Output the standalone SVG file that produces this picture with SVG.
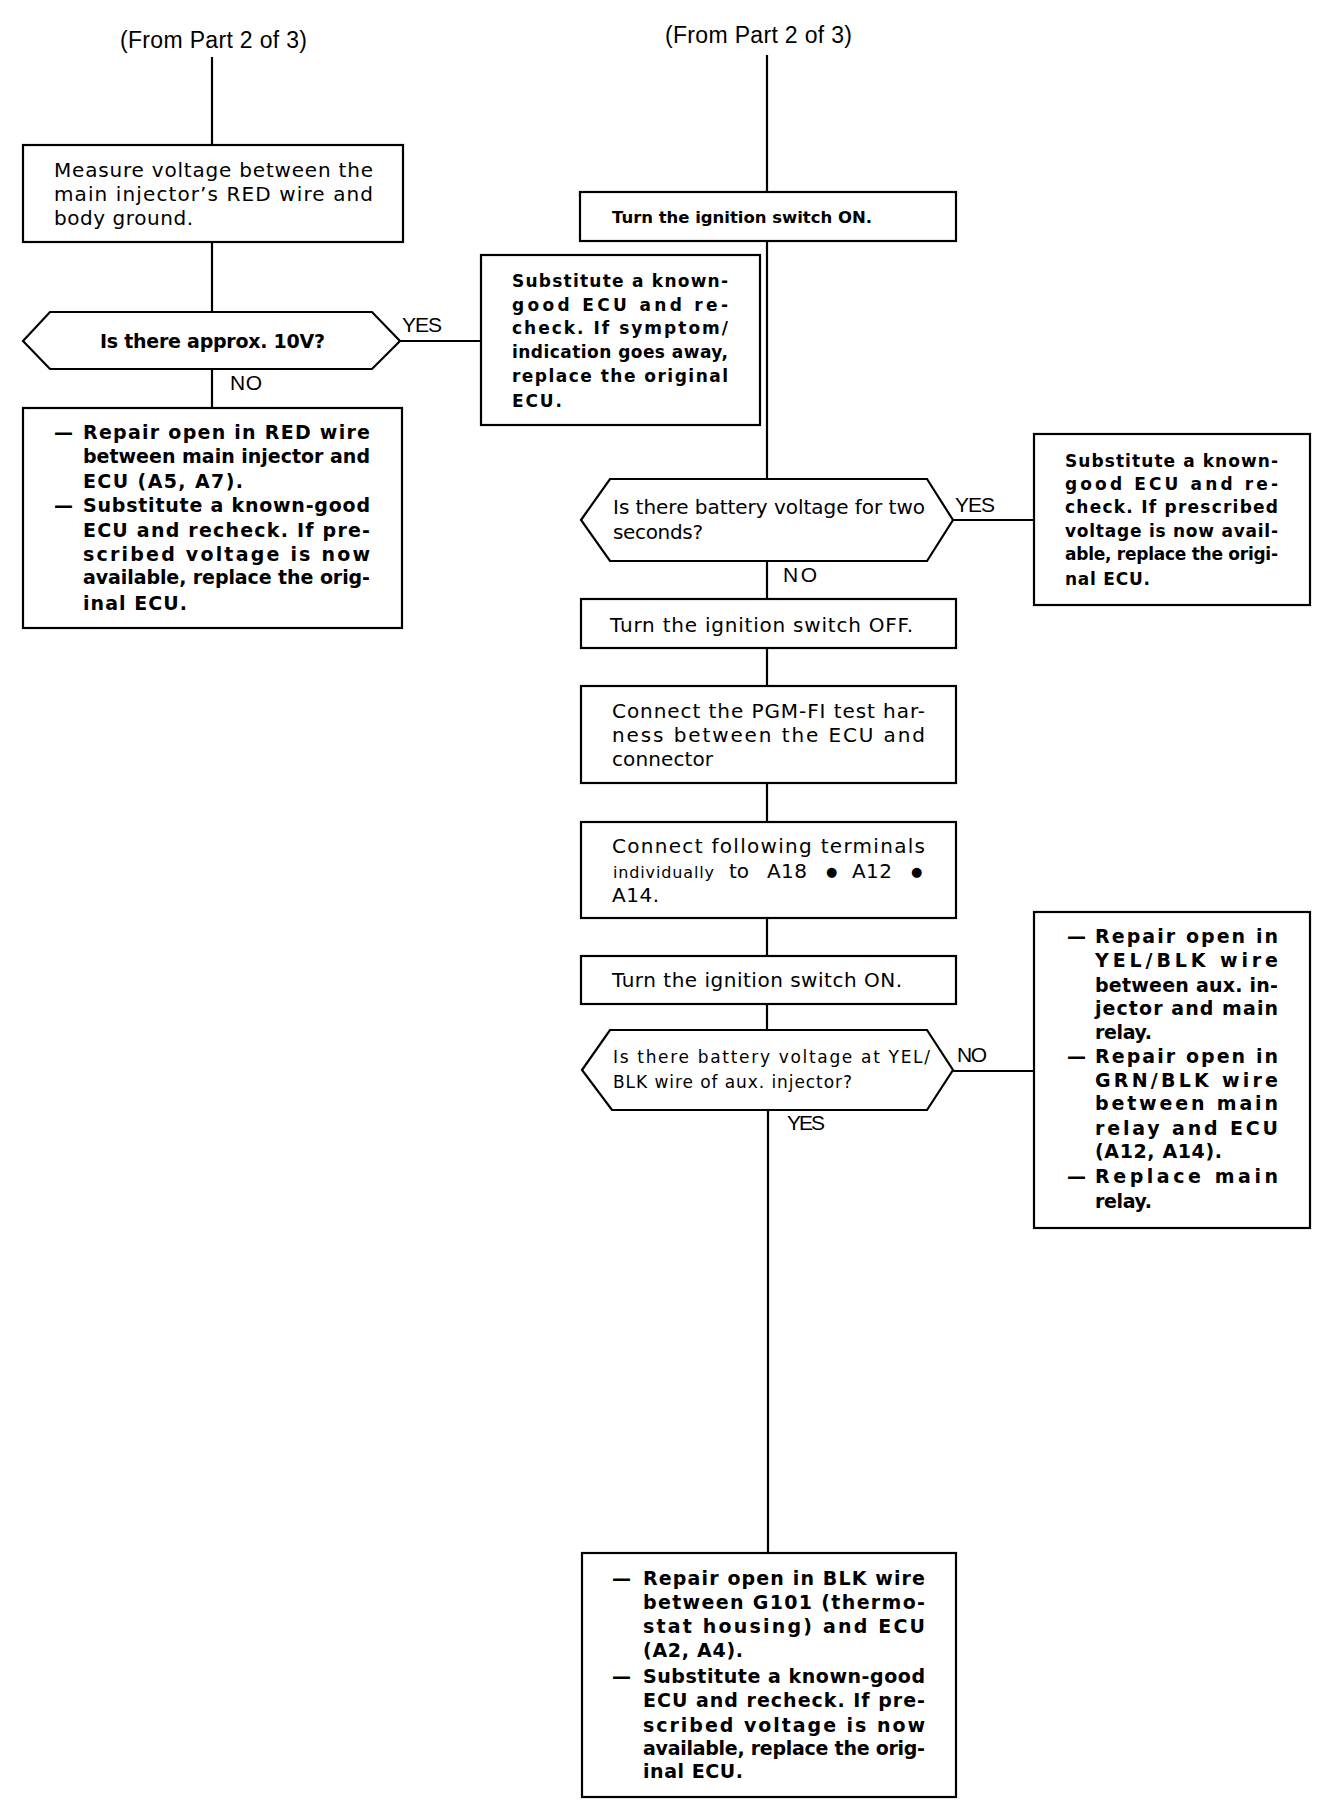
<svg xmlns="http://www.w3.org/2000/svg" width="1344" height="1820" viewBox="0 0 1344 1820">
<style>
.bg{fill:#fff}
.box{fill:#fff;stroke:#000;stroke-width:2.2}
.ln{stroke:#000;stroke-width:2.2;fill:none}
text{font-family:"DejaVu Sans","Liberation Sans",sans-serif;fill:#000}
.r{font-size:20px}
.rs{font-size:17px}
.b{font-size:19px;font-weight:bold}
.bs{font-size:17px;font-weight:bold}
.lbl{font-family:"Liberation Sans",Arial,sans-serif;font-size:21px}
.from{font-family:"Liberation Sans",Arial,sans-serif;font-size:23px}
.dot{font-size:13px}
</style>
<rect class="bg" x="0" y="0" width="1344" height="1820"/>

<g id="connectors">
<line class="ln" x1="212" y1="57" x2="212" y2="145"/>
<line class="ln" x1="212" y1="242" x2="212" y2="312"/>
<line class="ln" x1="212" y1="369" x2="212" y2="408"/>
<line class="ln" x1="400" y1="341" x2="481" y2="341"/>
<line class="ln" x1="767" y1="55" x2="767" y2="192"/>
<line class="ln" x1="767" y1="241" x2="767" y2="479"/>
<line class="ln" x1="767" y1="561" x2="767" y2="599"/>
<line class="ln" x1="767" y1="648" x2="767" y2="686"/>
<line class="ln" x1="767" y1="783" x2="767" y2="822"/>
<line class="ln" x1="767" y1="918" x2="767" y2="956"/>
<line class="ln" x1="767" y1="1004" x2="767" y2="1030"/>
<line class="ln" x1="768" y1="1110" x2="768" y2="1553"/>
<line class="ln" x1="953" y1="520" x2="1034" y2="520"/>
<line class="ln" x1="953" y1="1071" x2="1034" y2="1071"/>
<text class="lbl" x="402" y="332" textLength="40">YES</text>
<text class="lbl" x="230" y="390" textLength="32">NO</text>
<text class="lbl" x="955" y="512" textLength="40">YES</text>
<text class="lbl" x="783" y="582" textLength="34">NO</text>
<text class="lbl" x="957" y="1062" textLength="30">NO</text>
<text class="lbl" x="787" y="1130" textLength="38">YES</text>
</g>

<g id="from-left">
<text class="from" x="120" y="48" textLength="187">(From Part 2 of 3)</text>
</g>
<g id="from-right">
<text class="from" x="665" y="43" textLength="187">(From Part 2 of 3)</text>
</g>

<g id="measure">
<rect class="box" x="23" y="145" width="380" height="97"/>
<text class="r" x="54" y="177" textLength="319">Measure voltage between the</text>
<text class="r" x="54" y="201" textLength="319">main injector’s RED wire and</text>
<text class="r" x="54" y="225" textLength="139">body ground.</text>
</g>

<g id="decision-10v">
<polygon class="box" points="23,341 50,312 372,312 400,341 372,369 50,369"/>
<text class="b" x="100" y="348" textLength="225">Is there approx. 10V?</text>
</g>

<g id="repair-red">
<rect class="box" x="23" y="408" width="379" height="220"/>
<text class="b" x="54" y="439">—</text>
<text class="b" x="83" y="439" textLength="287">Repair open in RED wire</text>
<text class="b" x="83" y="463" textLength="287">between main injector and</text>
<text class="b" x="83" y="488" textLength="160">ECU (A5, A7).</text>
<text class="b" x="54" y="512">—</text>
<text class="b" x="83" y="512" textLength="287">Substitute a known-good</text>
<text class="b" x="83" y="537" textLength="287">ECU and recheck. If pre-</text>
<text class="b" x="83" y="561" textLength="287">scribed voltage is now</text>
<text class="b" x="83" y="584" textLength="287">available, replace the orig-</text>
<text class="b" x="83" y="610" textLength="104">inal ECU.</text>
</g>

<g id="substitute-1">
<rect class="box" x="481" y="255" width="279" height="170"/>
<text class="bs" x="512" y="287" textLength="216">Substitute a known-</text>
<text class="bs" x="512" y="311" textLength="216">good ECU and re-</text>
<text class="bs" x="512" y="334" textLength="216">check. If symptom/</text>
<text class="bs" x="512" y="358" textLength="216">indication goes away,</text>
<text class="bs" x="512" y="382" textLength="216">replace the original</text>
<text class="bs" x="512" y="407" textLength="50">ECU.</text>
</g>

<g id="ign-on-1">
<rect class="box" x="580" y="192" width="376" height="49"/>
<text class="bs" x="612" y="223" textLength="260" style="font-size:16.5px">Turn the ignition switch ON.</text>
</g>

<g id="decision-2s">
<polygon class="box" points="581,520 610,479 927,479 953,520 927,561 610,561"/>
<text class="r" x="613" y="514" textLength="312">Is there battery voltage for two</text>
<text class="r" x="613" y="539" textLength="90">seconds?</text>
</g>

<g id="substitute-2">
<rect class="box" x="1034" y="434" width="276" height="171"/>
<text class="bs" x="1065" y="467" textLength="213">Substitute a known-</text>
<text class="bs" x="1065" y="490" textLength="213">good ECU and re-</text>
<text class="bs" x="1065" y="513" textLength="213">check. If prescribed</text>
<text class="bs" x="1065" y="537" textLength="213">voltage is now avail-</text>
<text class="bs" x="1065" y="560" textLength="213">able, replace the origi-</text>
<text class="bs" x="1065" y="585" textLength="85">nal ECU.</text>
</g>

<g id="ign-off">
<rect class="box" x="581" y="599" width="375" height="49"/>
<text class="r" x="610" y="632" textLength="303">Turn the ignition switch OFF.</text>
</g>

<g id="pgm-harness">
<rect class="box" x="581" y="686" width="375" height="97"/>
<text class="r" x="612" y="718" textLength="313">Connect the PGM-FI test har-</text>
<text class="r" x="612" y="742" textLength="313">ness between the ECU and</text>
<text class="r" x="612" y="766" textLength="101">connector</text>
</g>

<g id="terminals">
<rect class="box" x="581" y="822" width="375" height="96"/>
<text class="r" x="612" y="853" textLength="313">Connect following terminals</text>
<text class="rs" x="613" y="878" textLength="101" style="font-size:16px">individually</text>
<text class="r" x="729" y="878">to</text>
<text class="r" x="767" y="878" textLength="40">A18</text>
<text class="dot" x="826" y="876">●</text>
<text class="r" x="852" y="878" textLength="40">A12</text>
<text class="dot" x="911" y="876">●</text>
<text class="r" x="612" y="902" textLength="47">A14.</text>
</g>

<g id="ign-on-2">
<rect class="box" x="581" y="956" width="375" height="48"/>
<text class="r" x="612" y="987" textLength="290">Turn the ignition switch ON.</text>
</g>

<g id="decision-yelblk">
<polygon class="box" points="582,1070 610,1030 927,1030 953,1070 927,1110 612,1110"/>
<text class="rs" x="613" y="1063" textLength="317">Is there battery voltage at YEL/</text>
<text class="rs" x="613" y="1088" textLength="239">BLK wire of aux. injector?</text>
</g>

<g id="repair-yelblk">
<rect class="box" x="1034" y="912" width="276" height="316"/>
<text class="b" x="1067" y="943">—</text>
<text class="b" x="1095" y="943" textLength="183">Repair open in</text>
<text class="b" x="1095" y="967" textLength="183">YEL/BLK wire</text>
<text class="b" x="1095" y="992" textLength="183">between aux. in-</text>
<text class="b" x="1095" y="1015" textLength="183">jector and main</text>
<text class="b" x="1095" y="1039" textLength="57">relay.</text>
<text class="b" x="1067" y="1063">—</text>
<text class="b" x="1095" y="1063" textLength="183">Repair open in</text>
<text class="b" x="1095" y="1087" textLength="183">GRN/BLK wire</text>
<text class="b" x="1095" y="1110" textLength="183">between main</text>
<text class="b" x="1095" y="1135" textLength="183">relay and ECU</text>
<text class="b" x="1095" y="1158" textLength="127">(A12, A14).</text>
<text class="b" x="1067" y="1183">—</text>
<text class="b" x="1095" y="1183" textLength="183">Replace main</text>
<text class="b" x="1095" y="1208" textLength="57">relay.</text>
</g>

<g id="repair-blk">
<rect class="box" x="582" y="1553" width="374" height="244"/>
<text class="b" x="612" y="1585">—</text>
<text class="b" x="643" y="1585" textLength="282">Repair open in BLK wire</text>
<text class="b" x="643" y="1609" textLength="282">between G101 (thermo-</text>
<text class="b" x="643" y="1633" textLength="282">stat housing) and ECU</text>
<text class="b" x="643" y="1657" textLength="100">(A2, A4).</text>
<text class="b" x="612" y="1683">—</text>
<text class="b" x="643" y="1683" textLength="282">Substitute a known-good</text>
<text class="b" x="643" y="1707" textLength="282">ECU and recheck. If pre-</text>
<text class="b" x="643" y="1732" textLength="282">scribed voltage is now</text>
<text class="b" x="643" y="1755" textLength="282">available, replace the orig-</text>
<text class="b" x="643" y="1778" textLength="100">inal ECU.</text>
</g>
</svg>
